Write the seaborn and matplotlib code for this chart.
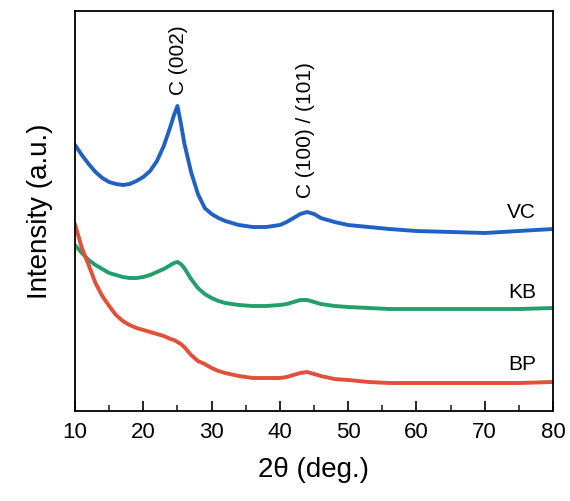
import numpy as np
import pandas as pd
import matplotlib
matplotlib.use("Agg")
import matplotlib.pyplot as plt
import seaborn as sns
from matplotlib.ticker import MultipleLocator

sns.set_theme(style="white")
plt.rcParams['font.family'] = ['Liberation Sans', 'DejaVu Sans']

two_theta = [10, 11, 12, 13, 14, 15, 16, 17, 18, 19, 20, 21, 22, 23, 24, 24.5, 25, 25.5,
             26, 27, 28, 29, 30, 31, 32, 34, 36, 38, 40, 41, 42, 43, 44, 45, 46, 48, 50,
             53, 56, 60, 65, 70, 75, 80]
vc = [266, 256, 247, 239, 233, 229, 227, 226, 227, 230, 234, 240, 250, 265, 285, 296, 305, 288,
      268, 239, 217, 203, 197, 193, 190, 186, 184, 184, 186, 189, 193, 197, 199, 197, 193, 189, 186,
      184, 182, 180, 179, 178, 180, 182]
kb = [166, 158, 151, 146, 142, 138, 136, 134, 133, 133, 134, 136, 139, 142, 146, 148, 149, 147,
      143, 132, 123, 117, 113, 110, 108, 106, 105, 105, 106, 107, 109, 111, 111, 109, 107, 105, 104,
      103, 102, 102, 102, 102, 102, 103]
bp = [187, 163, 146, 128, 115, 105, 96, 90, 86, 83, 81, 79, 77, 75, 72, 71, 69, 67,
      64, 56, 50, 47, 43, 40, 38, 35, 33, 33, 33, 34, 36, 38, 39, 37, 35, 32, 31,
      29, 28, 28, 28, 28, 28, 29]
samples = ["VC", "KB", "BP"]
colors = ["#2161c6", "#22a06b", "#e2503a"]
peak_labels = ["C (002)", "C (100) / (101)"]
peak_pos = [25.1, 43.8]

df = pd.concat([
    pd.DataFrame({"2theta": two_theta, "I": vals, "sample": s})
    for s, vals in zip(samples, [vc, kb, bp])
])

fig = plt.figure(figsize=(5.70, 5.01), dpi=100)
ax = fig.add_axes([75/570, 90/501, (553-75)/570, (411-11)/501])
sns.lineplot(data=df, x="2theta", y="I", hue="sample", palette=dict(zip(samples, colors)),
             linewidth=2.8, ax=ax, legend=False, sort=False)

ax.set_xlim(10, 80)
ax.set_ylim(0, 400)
ax.xaxis.set_major_locator(MultipleLocator(10))
ax.xaxis.set_minor_locator(MultipleLocator(5))
ax.tick_params(axis='x', which='major', direction='in', length=7.5, width=1.2, bottom=True,
               labelsize=16, pad=8, colors='black')
ax.tick_params(axis='x', which='minor', direction='in', length=4, width=1.2, bottom=True)
ax.set_yticks([])
for sp in ax.spines.values():
    sp.set_color('black')
    sp.set_linewidth(1.3)

ax.set_xlabel("2θ (deg.)", fontsize=20, labelpad=10, color='black')
ax.set_ylabel("Intensity (a.u.)", fontsize=20, labelpad=16, color='black')

# sample labels
for s, yv in zip(samples, [198, 119, 46]):
    ax.text(77.5, yv, s, ha='right', va='center', fontsize=15, color='black')

# peak annotations
ax.text(peak_pos[0], 316, peak_labels[0], rotation=90, ha='center', va='bottom', fontsize=15, color='black')
ax.text(peak_pos[1], 213, peak_labels[1], rotation=90, ha='center', va='bottom', fontsize=15, color='black')

fig.savefig("out.png", dpi=100)
